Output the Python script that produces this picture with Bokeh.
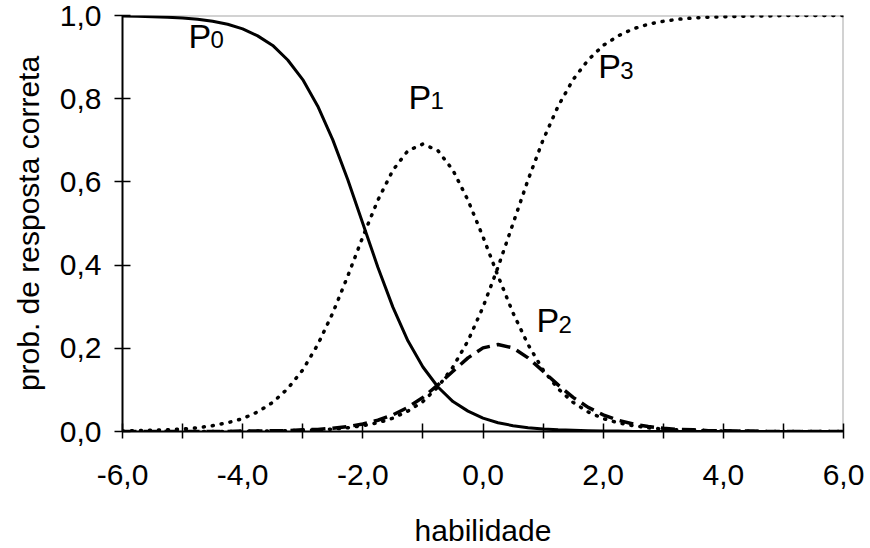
from bokeh.plotting import figure
from bokeh.models import Range1d, FixedTicker, CustomJSTickFormatter, LinearAxis, ColumnDataSource
from bokeh.core.properties import value
from bokeh.embed import file_html
from bokeh.resources import INLINE

# ability values (x)
theta = [-6.0, -5.75, -5.5, -5.25, -5.0, -4.75, -4.5, -4.25, -4.0, -3.75, -3.5, -3.25,
         -3.0, -2.75, -2.5, -2.25, -2.0, -1.75, -1.5, -1.25, -1.0, -0.75, -0.5, -0.25,
         0.0, 0.25, 0.5, 0.75, 1.0, 1.25, 1.5, 1.75, 2.0, 2.25, 2.5, 2.75,
         3.0, 3.25, 3.5, 3.75, 4.0, 4.25, 4.5, 4.75, 5.0, 5.25, 5.5, 5.75, 6.0]

p0 = [0.999, 0.998, 0.997, 0.996, 0.994, 0.991, 0.986, 0.979, 0.968, 0.951, 0.928, 0.893,
      0.846, 0.782, 0.701, 0.605, 0.500, 0.395, 0.299, 0.218, 0.155, 0.107, 0.072, 0.049,
      0.032, 0.021, 0.014, 0.009, 0.006, 0.004, 0.003, 0.002, 0.001, 0.001, 0.000, 0.000,
      0.000, 0.000, 0.000, 0.000, 0.000, 0.000, 0.000, 0.000, 0.000, 0.000, 0.000, 0.000, 0.000]

p1 = [0.001, 0.002, 0.003, 0.004, 0.006, 0.009, 0.014, 0.021, 0.031, 0.047, 0.070, 0.103,
      0.148, 0.209, 0.285, 0.374, 0.468, 0.556, 0.628, 0.675, 0.691, 0.675, 0.628, 0.556,
      0.468, 0.374, 0.285, 0.209, 0.148, 0.103, 0.070, 0.047, 0.031, 0.021, 0.014, 0.009,
      0.006, 0.004, 0.003, 0.002, 0.001, 0.001, 0.000, 0.000, 0.000, 0.000, 0.000, 0.000, 0.000]

p2 = [0.000, 0.000, 0.000, 0.000, 0.000, 0.000, 0.000, 0.000, 0.001, 0.001, 0.002, 0.002,
      0.004, 0.005, 0.008, 0.012, 0.018, 0.027, 0.040, 0.058, 0.082, 0.112, 0.145, 0.177,
      0.201, 0.209, 0.201, 0.177, 0.145, 0.112, 0.082, 0.058, 0.040, 0.027, 0.018, 0.012,
      0.008, 0.005, 0.004, 0.002, 0.002, 0.001, 0.001, 0.000, 0.000, 0.000, 0.000, 0.000, 0.000]

p3 = [0.000, 0.000, 0.000, 0.000, 0.000, 0.000, 0.000, 0.000, 0.000, 0.001, 0.001, 0.002,
      0.003, 0.004, 0.006, 0.009, 0.014, 0.021, 0.032, 0.049, 0.072, 0.107, 0.155, 0.218,
      0.299, 0.395, 0.500, 0.605, 0.701, 0.782, 0.846, 0.893, 0.928, 0.951, 0.968, 0.979,
      0.986, 0.991, 0.994, 0.996, 0.997, 0.998, 0.999, 0.999, 1.000, 1.000, 1.000, 1.000, 1.000]

x_ticks = [-6, -4, -2, 0, 2, 4, 6]
x_minor = [-5, -3, -1, 1, 3, 5]
y_ticks = [0.0, 0.2, 0.4, 0.6, 0.8, 1.0]

curve_names = ["P", "P", "P", "P"]
curve_subs = ["0", "1", "2", "3"]
label_x = [-4.90, -1.24, 0.89, 1.92]
label_y = [0.923, 0.776, 0.238, 0.849]

FONT = "Liberation Sans"

p = figure(frame_width=721, frame_height=416,
           x_range=Range1d(-6, 6), y_range=Range1d(0, 1),
           output_backend="svg", toolbar_location=None,
           min_border_left=122, min_border_right=25, min_border_top=15, min_border_bottom=116,
           x_axis_label="habilidade", y_axis_label="prob. de resposta correta")
p.xgrid.visible = False
p.ygrid.visible = False
p.outline_line_color = None
p.background_fill_color = "white"
p.border_fill_color = "white"

fmt = CustomJSTickFormatter(code="return tick.toFixed(1).replace('.', ',');")

xa = p.xaxis[0]
xa.ticker = FixedTicker(ticks=x_ticks, minor_ticks=x_minor)
xa.formatter = fmt
ya = p.yaxis[0]
ya.ticker = FixedTicker(ticks=y_ticks, minor_ticks=[])
ya.formatter = fmt

for ax in (xa, ya):
    ax.axis_line_color = "black"
    ax.axis_line_width = 2
    ax.major_tick_line_color = "black"
    ax.major_tick_line_width = 1.5
    ax.minor_tick_line_color = "black"
    ax.minor_tick_line_width = 1.5
    ax.major_label_text_font = FONT
    ax.major_label_text_font_size = "30px"
    ax.major_label_text_color = "black"
    ax.axis_label_text_font = FONT
    ax.axis_label_text_font_size = "30px"
    ax.axis_label_text_font_style = "normal"
    ax.axis_label_text_color = "black"

xa.major_tick_in = 8
xa.major_tick_out = 7
xa.minor_tick_in = 8
xa.minor_tick_out = 7
xa.major_label_standoff = 26
xa.axis_label_standoff = 26

ya.major_tick_in = 8
ya.major_tick_out = 8
ya.minor_tick_in = 0
ya.minor_tick_out = 0
ya.major_label_standoff = 13
ya.axis_label_standoff = 12

for place in ("above", "right"):
    b = LinearAxis(ticker=FixedTicker(ticks=[], minor_ticks=[]),
                   axis_line_color="#a6a6a6", axis_line_width=2,
                   major_tick_in=0, major_tick_out=0, minor_tick_in=0, minor_tick_out=0,
                   major_label_text_font_size="0px", level="underlay")
    p.add_layout(b, place)

src = ColumnDataSource(dict(theta=theta, p0=p0, p1=p1, p2=p2, p3=p3))

p.line("theta", "p1", source=src, line_color="black", line_width=3.5,
       line_dash="1 8", line_cap="round")
p.line("theta", "p3", source=src, line_color="black", line_width=3.5,
       line_dash="1 8", line_cap="round")
p.line("theta", "p2", source=src, line_color="black", line_width=3.5,
       line_dash="14 7")
p.line("theta", "p0", source=src, line_color="black", line_width=3)

lsrc = ColumnDataSource(dict(x=label_x, y=label_y, t=curve_names, s=curve_subs))
p.text(x="x", y="y", text="t", source=lsrc, text_font=value(FONT), text_font_size="34px",
       text_align="left", text_baseline="alphabetic", text_color="black",
       y_offset=-12)
p.text(x="x", y="y", text="s", source=lsrc, text_font=value(FONT), text_font_size="24px",
       text_align="left", text_baseline="alphabetic", text_color="black",
       x_offset=22, y_offset=-8)

open("out.html", "w").write(file_html(p, INLINE))
